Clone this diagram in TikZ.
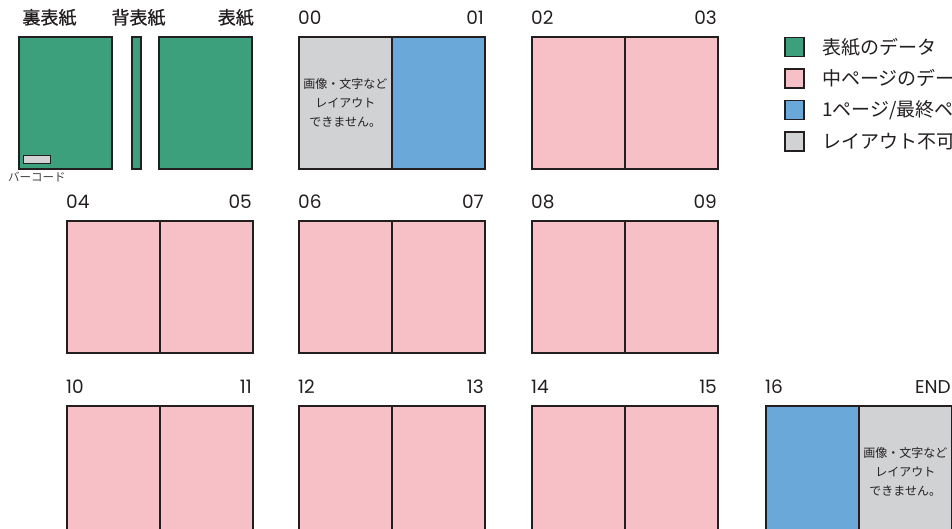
\documentclass[tikz,border=0pt]{standalone}
\usepackage{fontspec}
\setmainfont{Noto Sans CJK JP}
\newfontfamily\jhead{Noto Sans CJK JP}[FakeBold=0.8]
\newfontfamily\numfont{Poppins}
\definecolor{linec}{HTML}{231F20}
\definecolor{greenc}{HTML}{3DA07C}
\definecolor{pinkc}{HTML}{F7BFC6}
\definecolor{bluec}{HTML}{6AA8DA}
\definecolor{grayc}{HTML}{D1D2D4}
\tikzset{
  pagebox/.style={draw=linec, line width=1.6pt, minimum width=93pt, minimum height=132pt, inner sep=0pt, anchor=north west},
  num/.style={font=\numfont\fontsize{18.5}{20}\selectfont, text=linec, inner sep=0pt},
  jlbl/.style={font=\jhead\fontsize{18}{20}\selectfont, text=linec, inner sep=0pt},
  note/.style={font=\fontsize{12}{19}\selectfont, text=linec, inner sep=0pt, align=center},
  legbox/.style={draw=linec, line width=1.6pt, minimum size=19pt, inner sep=0pt},
  legtxt/.style={font=\fontsize{19}{21}\selectfont, text=linec, inner sep=0pt, anchor=west}
}
\newcommand\mkspread[7]{%
  \node[pagebox, fill=#4] (#1L) at (#2,#3) {};
  \node[pagebox, fill=#5] (#1R) at (#2+93,#3) {};
  \node[num, anchor=base west] (#1nl) at (#2,#3-11.5) {#6};
  \node[num, anchor=base east] (#1nr) at (#2+186,#3-11.5) {#7};
}
\begin{document}
\begin{tikzpicture}[x=1pt,y=-1pt]
\useasboundingbox (0,0) rectangle (952,528);
\clip (0,0) rectangle (952,528);
\fill[white] (0,0) rectangle (952,528);
% covers
\node[pagebox, fill=greenc] (back) at (18,36) {};
\node[pagebox, fill=greenc, minimum width=9pt] (spine) at (131,36) {};
\node[pagebox, fill=greenc] (front) at (158,36) {};
\node[draw=linec, line width=1.3pt, fill=grayc, minimum width=27pt, minimum height=8pt, inner sep=0pt, anchor=north west] (barcode) at (23,155) {};
\node[font=\fontsize{11.5}{13}\selectfont, text=linec!85, inner sep=0pt] (barlbl) at (37,177) {バーコード};
\node[jlbl] (backlbl) at (49.5,17.5) {裏表紙};
\node[jlbl] (spinelbl) at (138.5,17.5) {背表紙};
\node[jlbl, anchor=east] (frontlbl) at (254,17.5) {表紙};
% spreads
\mkspread{a}{298}{36}{grayc}{bluec}{00}{01}
\mkspread{b}{531}{36}{pinkc}{pinkc}{02}{03}
\mkspread{c}{66}{220}{pinkc}{pinkc}{04}{05}
\mkspread{d}{298}{220}{pinkc}{pinkc}{06}{07}
\mkspread{e}{531}{220}{pinkc}{pinkc}{08}{09}
\mkspread{f}{66}{405}{pinkc}{pinkc}{10}{11}
\mkspread{g}{298}{405}{pinkc}{pinkc}{12}{13}
\mkspread{h}{531}{405}{pinkc}{pinkc}{14}{15}
\mkspread{k}{765}{405}{bluec}{grayc}{16}{END}
\node[note] (noteA) at (aL.center) {画像・文字など\\レイアウト\\できません。};
\node[note] (noteB) at (kR.center) {画像・文字など\\レイアウト\\できません。};
% legend
\node[legbox, fill=greenc] (lg1) at (794.5,47) {};
\node[legbox, fill=pinkc] (lg2) at (794.5,78.5) {};
\node[legbox, fill=bluec] (lg3) at (794.5,110) {};
\node[legbox, fill=grayc] (lg4) at (794.5,141.5) {};
\node[legtxt] (lt1) at (822,47) {表紙のデータ};
\node[legtxt] (lt2) at (822,78.5) {中ページのデータ};
\node[legtxt] (lt3) at (822,110) {1ページ/最終ページ};
\node[legtxt] (lt4) at (822,141.5) {レイアウト不可};
\end{tikzpicture}
\end{document}
